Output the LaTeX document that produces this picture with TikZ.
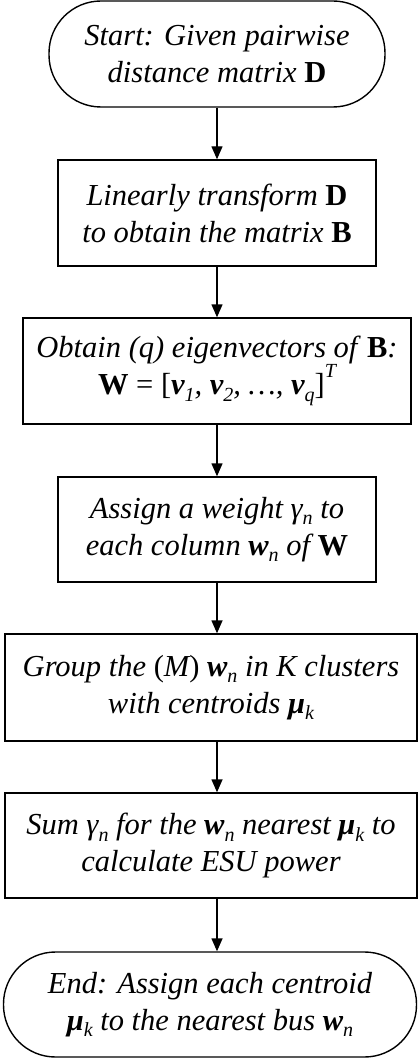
\documentclass[tikz,border=0pt]{standalone}
\usepackage{fontspec}
\setmainfont{LiberationSerif}[Extension=.ttf,UprightFont=*-Regular,ItalicFont=*-Italic,BoldFont=*-Bold,BoldItalicFont=*-BoldItalic]
\usetikzlibrary{arrows.meta}
\newcommand\lo[1]{\raisebox{-0.22em}{\fontsize{20}{20}\selectfont #1}}
\newcommand\hi[1]{\raisebox{0.55em}{\fontsize{20}{20}\selectfont #1}}
\newcommand\bv[1]{\textbf{\textit{#1}}}
\begin{document}
\begin{tikzpicture}[x=1pt,y=-1pt,
  base/.style={draw=black,line width=1.4pt,align=center,inner sep=0pt,
    font=\fontsize{30.5}{37}\selectfont\itshape},
  term/.style={base,rounded corners=52pt},
  proc/.style={base},
  flow/.style={line width=1.4pt,-{Triangle[length=13pt,width=11pt]}}]
\useasboundingbox (0,0) rectangle (418,1059);
\node[term,minimum width=336pt,minimum height=106pt] (s) at (217,54)
  {Start: Given pairwise\\distance matrix \textbf{\upshape D}};
\node[proc,minimum width=318pt,minimum height=106pt] (b2) at (217,213)
  {Linearly transform \textbf{\upshape D}\\to obtain the matrix \textbf{\upshape B}};
\node[proc,minimum width=388pt,minimum height=106pt] (b3) at (217,371)
  {Obtain (q) eigenvectors of\ \kern2pt\textbf{\upshape B}:\\{\upshape\textbf{W} = [}\bv{v}\lo{1}, \bv{v}\lo{2}, \dots, \bv{v}\lo{q}{\upshape]}\hi{T}};
\node[proc,minimum width=318pt,minimum height=105pt] (b4) at (217,529.5)
  {Assign a weight γ\lo{n} to\\each column \bv{w}\lo{n} of \textbf{\upshape W}};
\node[proc,minimum width=412pt,minimum height=107pt] (b5) at (211,687.5)
  {Group the {\upshape(}M{\upshape)} \bv{w}\lo{n} in K clusters\\with centroids \bv{μ}\lo{k}};
\node[proc,minimum width=412pt,minimum height=105pt] (b6) at (211,845.5)
  {Sum γ\lo{n} for the \bv{w}\lo{n} nearest \bv{μ}\lo{k} to\\calculate ESU power};
\node[term,minimum width=413pt,minimum height=105pt] (e) at (210,1004.5)
  {End: Assign each centroid\\\bv{μ}\lo{k} to the nearest bus \bv{w}\lo{n}};
\draw[flow] (s.south -| 217,0) -- (b2.north -| 217,0);
\draw[flow] (b2.south -| 217,0) -- (b3.north -| 217,0);
\draw[flow] (b3.south -| 217,0) -- (b4.north -| 217,0);
\draw[flow] (b4.south -| 217,0) -- (b5.north -| 217,0);
\draw[flow] (b5.south -| 217,0) -- (b6.north -| 217,0);
\draw[flow] (b6.south -| 217,0) -- (e.north -| 217,0);
\end{tikzpicture}
\end{document}
